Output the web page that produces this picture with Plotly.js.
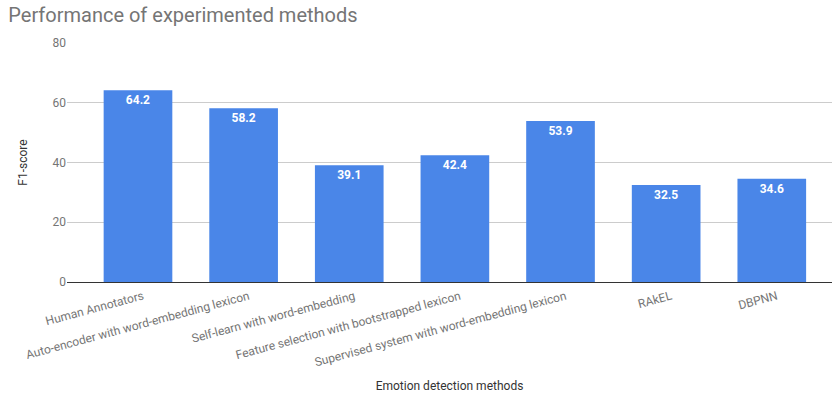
<!DOCTYPE html>
<html><head><meta charset="utf-8">
<script src="https://cdn.plot.ly/plotly-3.0.1.min.js"></script>
<style>html,body{margin:0;padding:0;background:#fff}#chart{width:832px;height:393px}</style>
</head><body><div id="chart"></div>
<script>
const methods = ["Human Annotators","Auto-encoder with word-embedding lexicon","Self-learn with word-embedding","Feature selection with bootstrapped lexicon","Supervised system with word-embedding lexicon","RAkEL","DBPNN"];
const f1Scores = [64.2, 58.2, 39.1, 42.4, 53.9, 32.5, 34.6];
const yTicks = [0, 20, 40, 60, 80];

const trace = {
  type: 'bar',
  x: methods.map((m, i) => i),
  y: f1Scores,
  width: 0.65,
  marker: {color: '#4a86e8'},
  text: f1Scores.map(v => v.toFixed(1)),
  textposition: 'inside',
  insidetextanchor: 'end',
  textangle: 0,
  textfont: {family: 'Roboto', size: 12, color: '#ffffff', weight: 'bold'},
  hoverinfo: 'none'
};

const layout = {
  width: 832, height: 393,
  margin: {l: 67, r: 0, t: 43, b: 111},
  paper_bgcolor: '#fff', plot_bgcolor: '#fff',
  font: {family: 'Roboto', color: '#757575'},
  title: {text: 'Performance of experimented methods', x: 0.01, xanchor: 'left', y: 0.963, yanchor: 'middle',
          font: {family: 'Roboto', size: 20, color: '#757575'}},
  showlegend: false,
  xaxis: {
    range: [-0.672, 6.57],
    tickmode: 'array', tickvals: methods.map((m, i) => i), ticktext: methods,
    tickangle: -15, tickfont: {family: 'Roboto', size: 12, color: '#757575'},
    showgrid: false, zeroline: false, showline: true, linecolor: '#333', linewidth: 1,
    ticks: '', ticklabelshift: 5, ticklabelstandoff: 2, fixedrange: true,
    title: {text: 'Emotion detection methods', font: {family: 'Roboto', size: 12, color: '#333'}, standoff: 26}
  },
  yaxis: {
    range: [0, 80], tickmode: 'array', tickvals: yTicks,
    tickfont: {family: 'Roboto', size: 12, color: '#757575'},
    gridcolor: '#cccccc', gridwidth: 1, zeroline: false, showline: false,
    ticks: '', ticklen: 0, fixedrange: true,
    title: {text: 'F1-score', font: {family: 'Roboto', size: 12, color: '#333'}, standoff: 22}
  },
  bargap: 0.35
};

Plotly.newPlot('chart', [trace], layout, {staticPlot: true, displayModeBar: false});
</script></body></html>
